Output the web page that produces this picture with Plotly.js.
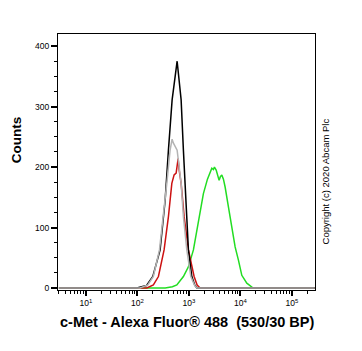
<!DOCTYPE html>
<html>
<head>
<meta charset="utf-8">
<script src="https://cdn.plot.ly/plotly-3.0.1.min.js"></script>
<style>html,body{margin:0;padding:0;background:#fff;}#chart{width:362px;height:351px;}</style>
</head>
<body>
<div id="chart"></div>
<script>
// Fluorescence intensity (x) and counts (y) for each histogram
const blackX = [3, 98, 150, 200, 277, 347, 402, 474, 593, 709, 785, 887, 982, 1143, 1300, 1430, 280000];
const blackY = [0, 0, 4, 19, 63, 145, 228, 311, 375, 311, 228, 145, 63, 19, 5, 0, 0];

const grayX = [3, 113, 160, 205, 269, 321, 374, 433, 474, 500, 542, 593, 709, 785, 914, 1093, 1300, 1430, 280000];
const grayY = [0, 0, 5, 19, 63, 118, 173, 228, 246, 240, 234, 228, 173, 118, 63, 19, 4, 0, 0];

const redX = [3, 153, 205, 257, 331, 402, 468, 518, 567, 600, 620, 650, 709, 811, 982, 1267, 1450, 1656, 280000];
const redY = [0, 0, 5, 19, 63, 118, 173, 187, 190, 205, 214, 195, 173, 118, 63, 19, 5, 0, 0];

const greenX = [3, 347, 480, 585, 785, 982, 1228, 1535, 1919, 2300, 2592, 2797, 3000, 3143, 3400, 3600, 3876, 4100, 4372, 4700, 5069, 5875, 6839, 7925, 9188, 10690, 13370, 17730, 280000];
const greenY = [0, 0, 2, 5, 19, 35, 63, 107, 156, 180, 192, 198, 196, 200, 195, 188, 178, 184, 187, 180, 167, 134, 101, 68, 46, 21, 8, 0, 0];

const xTickVals = [10, 100, 1000, 10000, 100000];
const xTickText = ['10<sup>1</sup>', '10<sup>2</sup>', '10<sup>3</sup>', '10<sup>4</sup>', '10<sup>5</sup>'];
const yTickVals = [0, 100, 200, 300, 400];

const xTitle = 'c-Met - Alexa Fluor® 488  (530/30 BP)';
const yTitle = 'Counts';
const copyright = 'Copyright (c) 2020 Abcam Plc';

const font = 'Liberation Sans, Arial, sans-serif';

function tr(x, y, color) {
  return {x: x, y: y, type: 'scatter', mode: 'lines', line: {color: color, width: 1.5}, hoverinfo: 'skip'};
}

const data = [
  tr(greenX, greenY, '#22dd22'),
  tr(redX, redY, '#cc1111'),
  tr(blackX, blackY, '#000000'),
  tr(grayX, grayY, '#b4b4b4')
];

const layout = {
  width: 362, height: 351,
  margin: {l: 58, r: 47, t: 34, b: 61},
  paper_bgcolor: '#ffffff', plot_bgcolor: '#ffffff',
  showlegend: false,
  font: {family: font, color: '#000', size: 8},
  xaxis: {
    type: 'log', range: [0.46, 5.45],
    tickvals: xTickVals, ticktext: xTickText,
    ticks: 'outside', ticklen: 5, tickwidth: 2, tickcolor: '#000',
    minor: {ticks: 'outside', ticklen: 3, tickwidth: 1, tickcolor: '#000', dtick: 'D1'},
    showgrid: false, zeroline: false,
    showline: true, linecolor: '#000', linewidth: 1, mirror: true,
    tickfont: {family: font, size: 8.5, color: '#000'}
  },
  yaxis: {
    range: [-3.3, 420],
    tickvals: yTickVals,
    ticks: 'outside', ticklen: 6, tickwidth: 2, tickcolor: '#000',
    minor: {ticks: 'outside', ticklen: 3, tickwidth: 1, tickcolor: '#000', dtick: 25},
    showgrid: false, zeroline: false,
    showline: true, linecolor: '#000', linewidth: 1, mirror: true,
    tickfont: {family: font, size: 8.5, color: '#000'}
  },
  annotations: [
    {text: '<b>' + xTitle + '</b>', xref: 'paper', yref: 'paper', x: 0.5, y: -0.125,
     xanchor: 'center', yanchor: 'middle', showarrow: false, font: {family: font, size: 14.5, color: '#000'}},
    {text: '<b>' + yTitle + '</b>', xref: 'paper', yref: 'paper', x: -0.163, y: 0.585,
     xanchor: 'center', yanchor: 'middle', textangle: -90, showarrow: false, font: {family: font, size: 13.5, color: '#000'}},
    {text: copyright, xref: 'paper', yref: 'paper', x: 1.04, y: 0.425,
     xanchor: 'center', yanchor: 'middle', textangle: -90, showarrow: false, font: {family: font, size: 9.5, color: '#000'}}
  ]
};

Plotly.newPlot('chart', data, layout, {displayModeBar: false, staticPlot: true});
</script>
</body>
</html>
